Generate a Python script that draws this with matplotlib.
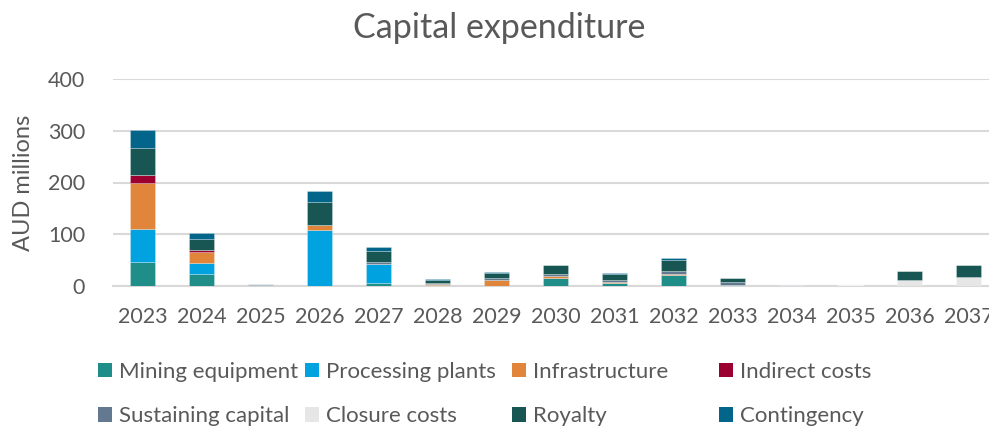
import matplotlib
matplotlib.use("Agg")
import matplotlib.pyplot as plt
import numpy as np

plt.rcParams['font.family'] = ['Lato', 'DejaVu Sans']

years = ["2023", "2024", "2025", "2026", "2027", "2028", "2029", "2030",
         "2031", "2032", "2033", "2034", "2035", "2036", "2037"]

series_names = ["Mining equipment", "Processing plants", "Infrastructure",
                "Indirect costs", "Sustaining capital", "Closure costs",
                "Royalty", "Contingency"]

mining_equipment   = [47, 24, 2, 0, 6, 2, 0, 16, 6, 21, 2, 0, 0, 0, 0]
processing_plants  = [63, 21, 0, 108, 37, 0, 0, 0, 0, 0, 0, 0, 0, 0, 0]
infrastructure     = [89, 21, 0, 9, 0, 1, 11, 3, 2.5, 2, 0, 0, 0, 0, 0]
indirect_costs     = [15, 4, 0, 0, 0, 0, 0, 0, 0, 0, 0, 0, 0, 0, 0]
sustaining_capital = [0, 0, 2, 0, 3, 3, 4, 4, 4, 6, 5, 1, 0, 0, 0]
closure_costs      = [0, 0, 0, 0, 0, 0, 0, 0, 0, 0, 0, 0, 1, 12, 17]
royalty            = [52, 21, 0, 45, 21, 6, 11, 17, 11.5, 22, 8, 0, 0, 17, 23]
contingency        = [35, 12, 0, 22, 8, 1.5, 1, 1, 1, 3, 1, 0, 0, 0, 0]

series_values = [mining_equipment, processing_plants, infrastructure,
                 indirect_costs, sustaining_capital, closure_costs,
                 royalty, contingency]
colors = ["#1F8E89", "#00A3E0", "#E0853A", "#9B0031",
          "#63798F", "#E6E6E6", "#175653", "#03658A"]

text_color = "#595959"
grid_color = "#D9D9D9"

fig = plt.figure(figsize=(9.89, 4.30), dpi=100)
# axes extends slightly beyond the right edge of the canvas
ax = fig.add_axes([113 / 989, 144 / 430, 885 / 989, 207 / 430])

x = np.arange(len(years))
bottom = np.zeros(len(years))
handles = []
for name, vals, col in zip(series_names, series_values, colors):
    v = np.array(vals, dtype=float)
    b = ax.bar(x, v, width=0.41, bottom=bottom, color=col, label=name,
               edgecolor=(1, 1, 1, 0.45), linewidth=0.4, zorder=3)
    handles.append(b)
    bottom += v

ax.set_xlim(-0.5, len(years) - 0.5)
ax.set_ylim(0, 400)
ax.set_yticks([0, 100, 200, 300, 400])
ax.set_xticks(x)
ax.set_xticklabels(years)
ax.yaxis.grid(True, color=grid_color, linewidth=1.5, zorder=0)
ax.set_axisbelow(True)
for s in ["top", "right", "left"]:
    ax.spines[s].set_visible(False)
ax.spines["bottom"].set_color(grid_color)
ax.spines["bottom"].set_linewidth(1.5)
ax.tick_params(axis="both", length=0, labelsize=15.5, colors=text_color)
ax.tick_params(axis="x", pad=15)
ax.tick_params(axis="y", pad=20)

ax.set_ylabel("AUD millions", fontsize=17, color=text_color, labelpad=10)
fig.text(0.505, 0.935, "Capital expenditure", ha="center", va="center",
         fontsize=24.5, color=text_color)

# legend laid out as four equal-width columns of two entries
col_x = [98 / 989, 305 / 989, 512 / 989, 719 / 989]
for c in range(4):
    hs = [handles[c], handles[c + 4]]
    labs = [series_names[c], series_names[c + 4]]
    leg = fig.legend(hs, labs, loc="upper left",
                     bbox_to_anchor=(col_x[c], 68 / 430),
                     frameon=False, fontsize=16, labelcolor=text_color,
                     handlelength=0.63, handleheight=0.63, handletextpad=0.3,
                     labelspacing=1.1, borderaxespad=0, borderpad=0)
    for h in leg.legend_handles:
        h.set_edgecolor("none")

fig.savefig("out.png", dpi=100)
